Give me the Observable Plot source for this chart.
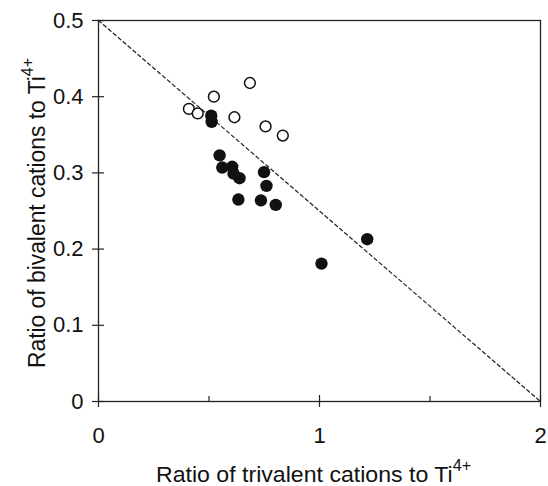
<!DOCTYPE html>
<html>
<head>
<meta charset="utf-8">
<script src="https://cdn.jsdelivr.net/npm/d3@7"></script>
<script src="https://cdn.jsdelivr.net/npm/@observablehq/plot@0.6"></script>
<style>
  html, body { margin: 0; padding: 0; background: #fff; }
  #chart svg { display: block; }
</style>
</head>
<body>
<div id="chart"></div>
<script>
// Open circles
const openX = [0.409, 0.449, 0.522, 0.685, 0.615, 0.756, 0.834];
const openY = [0.384, 0.378, 0.400, 0.418, 0.373, 0.361, 0.349];
// Filled circles
const filledX = [0.510, 0.512, 0.548, 0.560, 0.605, 0.611, 0.638, 0.749, 0.760, 0.633, 0.735, 0.802, 1.216, 1.009];
const filledY = [0.375, 0.367, 0.323, 0.307, 0.308, 0.299, 0.293, 0.301, 0.283, 0.265, 0.264, 0.258, 0.213, 0.181];
// Reference line
const refX = [0, 2];
const refY = [0.5, 0];
// Ticks
const xTicks = [0, 1, 2];
const xMinorTicks = [0.5, 1.5];
const yTicks = [0, 0.1, 0.2, 0.3, 0.4, 0.5];

const openData = openX.map((x, i) => ({x, y: openY[i]}));
const filledData = filledX.map((x, i) => ({x, y: filledY[i]}));
const refData = refX.map((x, i) => ({x, y: refY[i]}));

const fmt = d => d === 0 ? "0" : String(d);
const font = "Liberation Sans, Arial, sans-serif";

const plot = Plot.plot({
  width: 548,
  height: 486,
  marginLeft: 98,
  marginRight: 8,
  marginTop: 20,
  marginBottom: 85,
  style: {fontFamily: font, fontSize: "22px", color: "#111", background: "#fff"},
  x: {domain: [0, 2]},
  y: {domain: [0, 0.5]},
  marks: [
    Plot.frame({stroke: "#222", strokeWidth: 1.3}),
    // y ticks crossing axis
    Plot.axisY({ticks: yTicks, tickSize: 12, dx: 6, text: null, label: null, stroke: "#222", strokeWidth: 1.2}),
    Plot.axisY({ticks: yTicks, tickSize: 0, tickPadding: 15, tickFormat: fmt, label: null, fontSize: 22, fill: "#111"}),
    // x ticks crossing axis
    Plot.axisX({ticks: xTicks, tickSize: 12, dy: -6, text: null, label: null, stroke: "#222", strokeWidth: 1.2}),
    Plot.axisX({ticks: xMinorTicks, tickSize: 5, dy: -5, text: null, label: null, stroke: "#222", strokeWidth: 1.2}),
    Plot.axisX({ticks: xTicks, tickSize: 0, tickPadding: 26, tickFormat: fmt, label: null, fontSize: 22, fill: "#111"}),
    Plot.line(refData, {x: "x", y: "y", stroke: "#222", strokeWidth: 1.2, strokeDasharray: "3.5,3"}),
    Plot.dot(openData, {x: "x", y: "y", r: 5.4, stroke: "#111", strokeWidth: 1.5, fill: "white"}),
    Plot.dot(filledData, {x: "x", y: "y", r: 6.2, fill: "#111", stroke: "none"})
  ]
});

document.getElementById("chart").appendChild(plot);

// Axis titles with superscripts (horizontally stretched to match the reference face)
const svg = d3.select(plot);
function title(g, base, target, size) {
  const t = g.append("text")
    .attr("text-anchor", "start")
    .attr("font-family", font).attr("font-size", size).attr("fill", "#111");
  const b = t.append("tspan").text(base);
  t.append("tspan").attr("font-size", size * 0.7).attr("dy", -size * 0.5).text("4+");
  const w = b.node().getComputedTextLength() || target;
  t.attr("transform", `scale(${target / w},1)`);
  return t;
}
const xg = svg.append("g").attr("transform", "translate(156,482)");
title(xg, "Ratio of trivalent cations to Ti", 297, 22.5);
const yg = svg.append("g").attr("transform", "translate(45,368) rotate(-90)");
title(yg, "Ratio of bivalent cations to Ti", 292, 23.5);
</script>
</body>
</html>
